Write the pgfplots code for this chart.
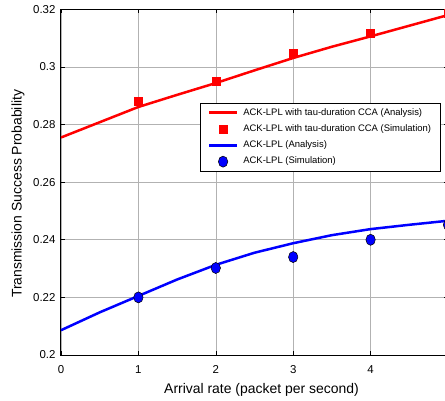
\documentclass[border=0pt]{standalone}
\usepackage{pgfplots}
\pgfplotsset{compat=1.18}
\usepackage{pgfplotstable}
\usepackage{fontspec}
\setmainfont{Liberation Sans}

% analysis curves
\pgfplotstableread{
x     y
0     0.2755
0.5   0.2808
1     0.2861
1.5   0.2903
2     0.2944
2.5   0.2988
3     0.3031
3.5   0.3070
4     0.3106
4.5   0.3143
5     0.3180
}\tauana

\pgfplotstableread{
x     y
1     0.2880
2     0.2951
3     0.3047
4     0.3118
5     0.3185
}\tausim

\pgfplotstableread{
x     y
0     0.2086
0.5   0.2148
1     0.2205
1.5   0.2262
2     0.2313
2.5   0.2355
3     0.2388
3.5   0.2416
4     0.2437
4.5   0.2452
5     0.2466
}\lplana

\pgfplotstableread{
x     y
1     0.2200
2     0.2302
3     0.2340
4     0.2400
5     0.2452
}\lplsim

\begin{document}
\begin{tikzpicture}
\useasboundingbox (-61bp,-46bp) rectangle (384bp,355bp);
\begin{axis}[
    at={(0,0)}, anchor=south west,
    scale only axis, width=387bp, height=345.7bp,
    xmin=0, xmax=5, ymin=0.2, ymax=0.32,
    xtick={0,1,2,3,4,5},
    xticklabels={0,1,2,3,4,5},
    ytick={0.2,0.22,0.24,0.26,0.28,0.3,0.32},
    yticklabels={0.2,0.22,0.24,0.26,0.28,0.3,0.32},
    tick align=inside,
    major tick length=4bp,
    tick style={black, line width=0.6bp},
    axis line style={black, line width=1bp},
    grid=major,
    major grid style={gray!60, line width=0.6bp},
    ticklabel style={font=\fontsize{11.5}{13}\selectfont},
    xticklabel style={yshift=-7bp},
    yticklabel style={xshift=-2bp},
    xlabel={Arrival rate (packet per second)},
    ylabel={Transmission Success Probability},
    xlabel style={at={(axis description cs:0.5,0)}, anchor=center,
        xshift=7bp, yshift=-34.4bp, font=\fontsize{14}{16}\selectfont},
    ylabel style={at={(axis description cs:-0.1111,0.466)}, anchor=center,
        font=\fontsize{14}{16}\selectfont},
    clip mode=individual,
    legend cell align=left,
    legend image code/.code={
        \draw[mark repeat=2,mark phase=2]
            plot coordinates {(0bp,0bp) (14bp,0bp) (28bp,0bp)};},
    legend style={at={(0.9812,0.7281)}, anchor=north east,
        draw=black, fill=white,
        font=\fontsize{9.5}{11}\selectfont,
        inner xsep=7.4bp, inner ysep=2.6bp, row sep=3bp,
        nodes={inner xsep=2bp, inner ysep=2bp, text height=7bp, text depth=2.3bp},
        /tikz/every odd column/.append style={column sep=3bp}},
]
\addplot[red, line width=2.5bp, no marks] table[x=x, y=y] {\tauana};
\addlegendentry{ACK-LPL with tau-duration CCA (Analysis)}
\addplot[only marks, mark=square*, mark size=4bp, red, mark options={fill=red, draw=red}]
    table[x=x, y=y] {\tausim};
\addlegendentry{ACK-LPL with tau-duration CCA (Simulation)}
\addplot[blue, line width=2.5bp, no marks] table[x=x, y=y] {\lplana};
\addlegendentry{ACK-LPL (Analysis)}
\addplot[only marks, mark=*, mark size=4.7bp,
    mark options={fill=blue, draw=black, line width=0.5bp, yscale=1.18}]
    table[x=x, y=y] {\lplsim};
\addlegendentry{ACK-LPL (Simulation)}
\end{axis}
\end{tikzpicture}
\end{document}
